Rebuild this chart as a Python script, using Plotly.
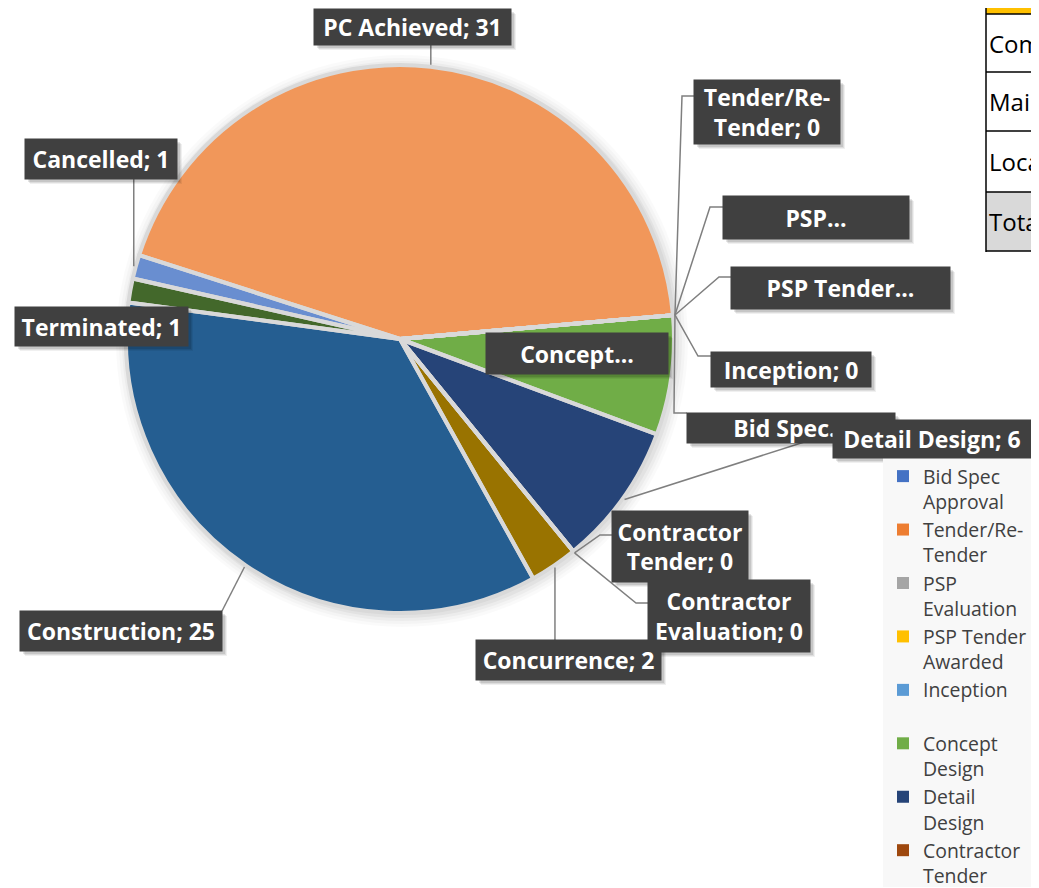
import math
import plotly.graph_objects as go

# ---------------- data ----------------
categories = ["Bid Spec Approval", "Tender/Re-Tender", "PSP Evaluation", "PSP Tender Awarded",
              "Inception", "Concept Design", "Detail Design", "Contractor Tender",
              "Contractor Evaluation", "Concurrence", "Construction", "Terminated",
              "Cancelled", "PC Achieved"]
values = [0, 0, 0, 0, 0, 5, 6, 0, 0, 2, 25, 1, 1, 31]
legend_names = ["Bid Spec<br>Approval", "Tender/Re-<br>Tender", "PSP<br>Evaluation",
                "PSP Tender<br>Awarded", "Inception<br>\u00a0", "Concept<br>Design",
                "Detail<br>Design", "Contractor<br>Tender", "Contractor<br>Evaluation",
                "Concurrence", "Construction", "Terminated", "Cancelled", "PC Achieved"]
# data-label names as shown (truncated ones end with "...")
label_names = ["Bid Spec...", "Tender/Re-<br>Tender", "PSP...", "PSP Tender...", "Inception",
               "Concept...", "Detail Design", "Contractor<br>Tender", "Contractor<br>Evaluation",
               "Concurrence", "Construction", "Terminated", "Cancelled", "PC Achieved"]
colors = ["#4472C4", "#ED7D31", "#A5A5A5", "#FFC000", "#5B9BD5", "#70AD47", "#264478",
          "#9E480E", "#636363", "#997300", "#255E91", "#43682B", "#698ED0", "#F1975A"]
table_rows = ["Commercial", "Maintenance", "Local", "Total"]

# ---------------- layout geometry ----------------
# positions below are page pixels; the figure sits 8px in from the page corner
OFF = 8
W, H = 1031, 880
CX, CY, R = 400, 339, 274
ROT = 85


def X(px):
    return (px - OFF) / W


def Y(py):
    return 1 - (py - OFF) / H


boxes = {
    0: (687, 413, 895, 443), 1: (694, 80, 840, 144), 2: (723, 196, 909, 239),
    3: (731, 267, 950, 309), 4: (711, 352, 871, 387), 5: (486, 333, 668, 374),
    6: (833, 420, 1031, 458), 7: (612, 511, 748, 582), 8: (648, 580, 810, 652),
    9: (476, 640, 661, 680), 10: (20, 611, 222, 651), 11: (15, 307, 188, 346),
    12: (25, 139, 177, 179), 13: (314, 9, 511, 45),
}
leaders = {
    0: [(674, 413), (687, 413)], 1: [(682, 96), (694, 96)], 2: [(710, 207), (723, 207)],
    3: [(719, 277), (731, 277)], 4: [(698, 356), (711, 356)], 6: [(820, 437)],
    7: [(600, 535), (612, 535)], 8: [(636, 603), (648, 603)], 9: [("a", 640)],
    10: [(222, 611)], 12: [("a", 179)], 13: [("a", 45)],
}

total = sum(values)
anchors = {}
cum = 0
for i, v in enumerate(values):
    mid = ROT + 360 * (cum + v / 2) / total
    t = math.radians(mid)
    anchors[i] = (CX + (R + 2) * math.sin(t), CY - (R + 2) * math.cos(t))
    cum += v

domain = dict(x=[X(CX - R), X(CX + R)], y=[Y(CY + R), Y(CY - R)])
fig = go.Figure()
fig.add_trace(go.Pie(
    labels=legend_names, values=values, sort=False, direction="clockwise", rotation=ROT,
    marker=dict(colors=colors, line=dict(width=0)),
    textinfo="none", hovertext=categories, hoverinfo="text+value", domain=domain,
))
# slice separators
fig.add_trace(go.Pie(
    labels=legend_names, values=values, sort=False, direction="clockwise", rotation=ROT,
    marker=dict(colors=["rgba(0,0,0,0)"] * len(values), line=dict(color="#D9D9D9", width=4)),
    textinfo="none", hoverinfo="skip", showlegend=False, domain=domain,
))

shapes = []
# soft halo around pie
for k, a in [(12, 0.02), (9, 0.025), (6, 0.03), (3, 0.04)]:
    shapes.append(dict(type="circle", xref="paper", yref="paper", layer="below",
                       x0=X(CX - R - k + 2), x1=X(CX + R + k + 2), y0=Y(CY + R + k + 2),
                       y1=Y(CY - R - k + 2),
                       fillcolor=f"rgba(0,0,0,{a})", line=dict(width=0)))

# leader lines
for i, pts in leaders.items():
    ax, ay = anchors[i]
    path = f"M{X(ax)},{Y(ay)}"
    for (px, py) in pts:
        px = ax if px == "a" else px
        path += f" L{X(px)},{Y(py)}"
    shapes.append(dict(type="path", xref="paper", yref="paper", path=path, layer="above",
                       line=dict(color="#7F7F7F", width=1.5)))

# box shadows
for i, (x0, y0, x1, y1) in boxes.items():
    for off, a in [(5, 0.06), (4, 0.08), (3, 0.1)]:
        shapes.append(dict(type="rect", xref="paper", yref="paper", layer="above",
                           x0=X(x0 + off), x1=X(x1 + off), y0=Y(y1 + off), y1=Y(y0 + off),
                           fillcolor=f"rgba(0,0,0,{a})", line=dict(width=0)))

# table at top right
TX = 986
row_y = [14, 72, 131, 192, 251]
shapes.append(dict(type="rect", xref="paper", yref="paper", x0=X(TX), x1=1, y0=Y(14), y1=1,
                   fillcolor="#FFC000", line=dict(width=0)))
shapes.append(dict(type="rect", xref="paper", yref="paper", x0=X(TX), x1=1, y0=Y(251), y1=Y(192),
                   fillcolor="#D9D9D9", line=dict(width=0)))
for yy in row_y:
    shapes.append(dict(type="line", xref="paper", yref="paper", x0=X(TX), x1=1, y0=Y(yy), y1=Y(yy),
                       line=dict(color="#000000", width=1.5)))
shapes.append(dict(type="line", xref="paper", yref="paper", x0=X(TX), x1=X(TX), y0=1, y1=Y(252),
                   line=dict(color="#000000", width=1.5)))

annotations = []
for r_i, name in enumerate(table_rows):
    yc = (row_y[r_i] + row_y[r_i + 1]) / 2
    annotations.append(dict(xref="paper", yref="paper", x=X(TX + 1), y=Y(yc), xanchor="left",
                            yanchor="middle", text=name, showarrow=False,
                            font=dict(family="Open Sans", size=24, color="#000000")))

for i in range(len(categories)):
    x0, y0, x1, y1 = boxes[i]
    nm = label_names[i]
    txt = nm if nm.endswith("...") else f"{nm}; {values[i]}"
    annotations.append(dict(xref="paper", yref="paper", x=X((x0 + x1) / 2), y=Y((y0 + y1) / 2),
                            xanchor="center", yanchor="middle", width=x1 - x0, height=y1 - y0,
                            borderpad=0, bgcolor="#404040", showarrow=False, text=f"<b>{txt}</b>",
                            align="center", valign="middle",
                            font=dict(family="Open Sans", size=23, color="#FFFFFF")))

fig.update_layout(
    width=W, height=H, margin=dict(l=0, r=0, t=0, b=0, autoexpand=False),
    paper_bgcolor="#FFFFFF", plot_bgcolor="#FFFFFF",
    shapes=shapes, annotations=annotations,
    showlegend=True,
    legend=dict(xref="container", yref="container", x=X(883), y=Y(457),
                xanchor="left", yanchor="top", bgcolor="#F8F8F8",
                font=dict(family="Open Sans", size=19.4, color="#404040"), valign="top",
                tracegroupgap=0, maxheight=430),
)

fig.write_html("out.html")
